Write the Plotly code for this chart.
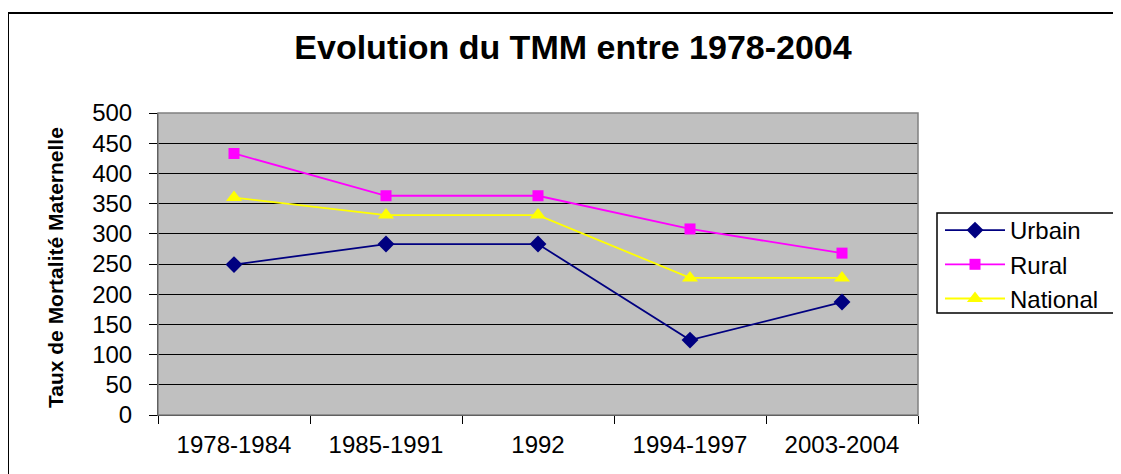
import plotly.graph_objects as go

categories = ["1978-1984", "1985-1991", "1992", "1994-1997", "2003-2004"]
urbain = [249, 283, 283, 124, 187]
rural = [433, 363, 363, 308, 268]
national = [360, 331, 331, 227, 227]
y_ticks = [0, 50, 100, 150, 200, 250, 300, 350, 400, 450, 500]

fig = go.Figure()
fig.add_trace(go.Scatter(x=categories, y=urbain, name="Urbain", mode="lines+markers",
                         line=dict(color="#000080", width=1.8),
                         marker=dict(symbol="diamond", size=13, color="#000080")))
fig.add_trace(go.Scatter(x=categories, y=rural, name="Rural", mode="lines+markers",
                         line=dict(color="#FF00FF", width=1.8),
                         marker=dict(symbol="square", size=11, color="#FF00FF")))
fig.add_trace(go.Scatter(x=categories, y=national, name="National", mode="lines+markers",
                         line=dict(color="#FFFF00", width=1.8),
                         marker=dict(symbol="triangle-up", size=14, color="#FFFF00")))

font_main = "Liberation Sans, Arial, sans-serif"

# figure is placed at an 8px page offset; margins chosen so the plot area spans x 158-918, y 113-415
W, H = 1113, 466
L, R, T, B = 150, 203, 105, 59
PW, PH = W - L - R, H - T - B

def px(xa):
    return (xa - 158) / PW

def py(ya):
    return (415 - ya) / PH

fig.update_layout(
    width=W, height=H,
    margin=dict(l=L, r=R, t=T, b=B),
    paper_bgcolor="white",
    plot_bgcolor="#C0C0C0",
    font=dict(family=font_main, color="black", size=23),
    title=dict(text="<b>Evolution du TMM entre 1978-2004</b>", x=(573 - 8) / W, xanchor="center",
               y=1 - (47 - 8) / H, yanchor="middle", font=dict(size=34, family=font_main)),
    showlegend=True,
    legend=dict(x=px(940), xanchor="left", y=py(208), yanchor="top",
                borderwidth=0, bgcolor="rgba(0,0,0,0)",
                font=dict(size=24), tracegroupgap=0, itemwidth=60),
    xaxis=dict(type="category", showgrid=False, showline=True, linecolor="black",
               linewidth=1, ticks="outside", tickson="boundaries", ticklen=8,
               tickcolor="black", range=[-0.5, 4.5], tickfont=dict(size=24),
               ticklabelstandoff=8),
    yaxis=dict(range=[0, 500], tickvals=y_ticks, showgrid=True, gridcolor="black",
               gridwidth=1, showline=True, linecolor="black", linewidth=1,
               ticks="outside", ticklen=8, tickcolor="black", zeroline=False,
               tickfont=dict(size=24), ticklabelstandoff=12),
    annotations=[
        dict(text="<b>Taux de Mortalité Maternelle</b>", xref="paper", yref="paper",
             x=px(55), y=py(268), xanchor="center", yanchor="middle", textangle=-90,
             showarrow=False, font=dict(size=21, family=font_main)),
    ],
    shapes=[
        dict(type="rect", xref="paper", yref="paper", x0=0, x1=1, y0=0, y1=1,
             line=dict(color="#808080", width=1.5), layer="above"),
        dict(type="rect", xref="paper", yref="paper", x0=px(8), x1=1.5,
             y0=-0.5, y1=py(13), line=dict(color="black", width=2)),
        dict(type="rect", xref="paper", yref="paper", x0=px(937), x1=1.5,
             y0=py(313), y1=py(213), line=dict(color="black", width=1.5),
             fillcolor="white", layer="below"),
    ],
)

fig.write_html("out.html")
